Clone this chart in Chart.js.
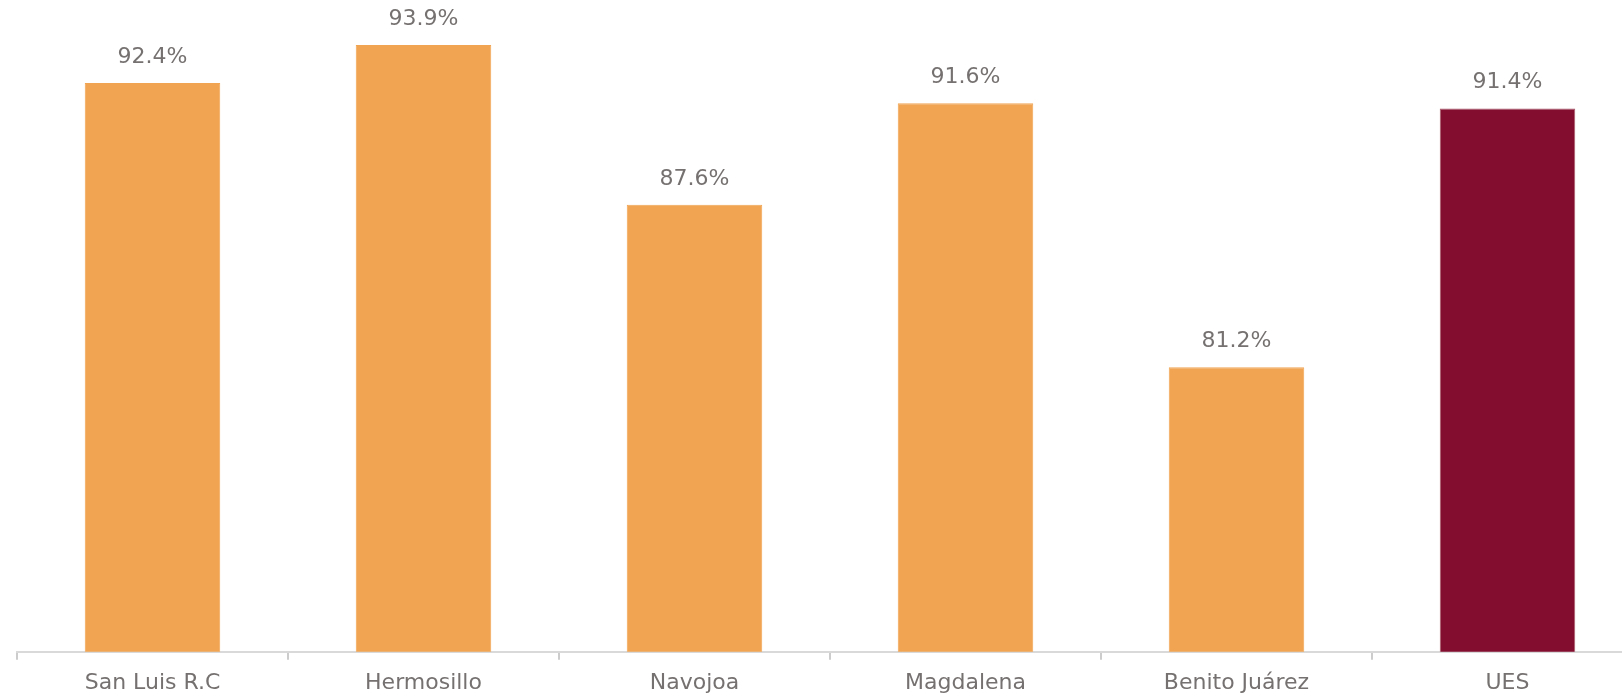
<!DOCTYPE html>
<html>
<head>
<meta charset="utf-8">
<script src="https://cdn.jsdelivr.net/npm/chart.js@4/dist/chart.umd.min.js"></script>
<style>
  html, body { margin: 0; padding: 0; background: #ffffff; overflow: hidden; }
  #wrap { position: absolute; left: 0; top: 0; width: 1660px; height: 699px; }
</style>
</head>
<body>
<div id="wrap"><canvas id="c" width="1660" height="699"></canvas></div>
<script>
const categories = ['San Luis R.C', 'Hermosillo', 'Navojoa', 'Magdalena', 'Benito Juárez', 'UES'];
const values = [92.4, 93.9, 87.6, 91.6, 81.2, 91.4];
const barColors = ['#F1A553', '#F1A553', '#F1A553', '#F1A553', '#F1A553', '#820D2F'];
const borderColors = ['#F1A553', '#F1A553', '#F1A553', '#F1A553', '#F1A553', '#A85A68'];

const TEXT = '#767171';

const valueLabels = {
  id: 'valueLabels',
  afterDatasetsDraw(chart) {
    const ctx = chart.ctx;
    const meta = chart.getDatasetMeta(0);
    ctx.save();
    ctx.font = '22px "DejaVu Sans"';
    ctx.fillStyle = TEXT;
    ctx.textAlign = 'center';
    ctx.textBaseline = 'alphabetic';
    meta.data.forEach((bar, i) => {
      ctx.fillText(values[i].toFixed(1) + '%', bar.x, bar.y - 20);
    });
    ctx.restore();
  }
};

new Chart(document.getElementById('c'), {
  type: 'bar',
  data: {
    labels: categories,
    datasets: [{
      data: values,
      backgroundColor: barColors,
      borderColor: borderColors,
      borderWidth: 1,
      barPercentage: 1.0,
      categoryPercentage: 0.5
    }]
  },
  options: {
    responsive: false,
    animation: false,
    layout: { padding: { left: 17, right: 17, top: 17, bottom: 0 } },
    plugins: { legend: { display: false }, tooltip: { enabled: false } },
    scales: {
      y: {
        display: false,
        min: 70,
        max: 95
      },
      x: {
        afterFit(scale) { scale.height = 47.3; },
        border: { display: true, color: '#D9D9D9', width: 2 },
        grid: {
          offset: true,
          drawOnChartArea: false,
          drawTicks: true,
          tickLength: 8,
          color: '#CCCCCC',
          lineWidth: 2
        },
        ticks: {
          color: TEXT,
          font: { family: 'DejaVu Sans', size: 22 },
          padding: 10,
          maxRotation: 0,
          autoSkip: false
        }
      }
    }
  },
  plugins: [valueLabels]
});
</script>
</body>
</html>
